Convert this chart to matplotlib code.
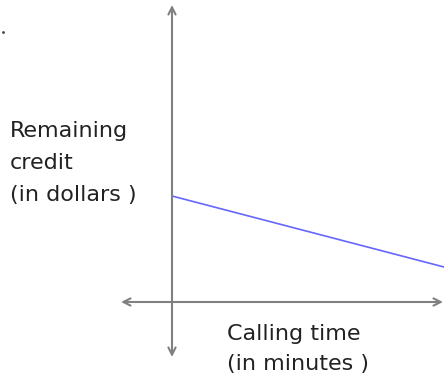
import matplotlib.pyplot as plt

# data (units: 1 unit ~ 10 px, origin at axes crossing)
minutes = [0, 27.2]
credit = [10.6, 3.5]
y_label = "Remaining\ncredit\n(in dollars )"
x_label = "Calling time\n(in minutes )"

fig = plt.figure(figsize=(4.44, 3.79), dpi=100)
ax = fig.add_axes([0, 0, 1, 1])
ax.set_xlim(-17.2, 27.2)
ax.set_ylim(-7.7, 30.2)
ax.axis('off')

grey = '#808080'
arrow = dict(arrowstyle='<->', color=grey, lw=1.5, mutation_scale=13, shrinkA=0, shrinkB=0)
ax.annotate('', xy=(0, 29.7), xytext=(0, -5.5), arrowprops=arrow)
ax.annotate('', xy=(27.1, 0), xytext=(-5.1, 0), arrowprops=arrow)

ax.plot(minutes, credit, color='#6666ff', lw=1.2)

ax.text(-16.2, 18.1, y_label, ha='left', va='top', fontsize=16,
        linespacing=1.75, color='#222222')
ax.text(5.5, -2.2, x_label, ha='left', va='top', fontsize=16,
        linespacing=1.6, color='#222222')
ax.plot([-16.9], [27.0], marker='.', ms=2, color='#444444')

fig.savefig('out.png', dpi=100)
